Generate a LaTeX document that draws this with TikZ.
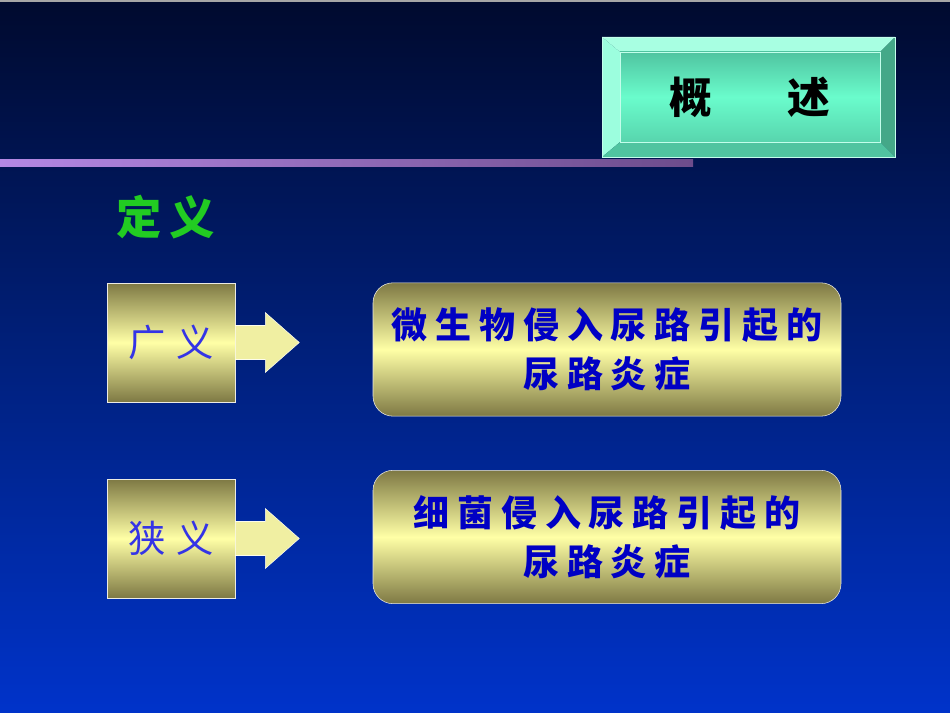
\documentclass[tikz,border=0pt]{standalone}
\usepackage{fontspec}
\usepackage{xcolor}
\usepackage{tikz}
\usetikzlibrary{calc,positioning}
\newfontfamily\cjk{Noto Sans CJK SC}
\newfontfamily\cjkwide[LetterSpace=22]{Noto Sans CJK SC}
\definecolor{skytop}{HTML}{000A2E}
\definecolor{skymid}{HTML}{00207C}
\definecolor{skybot}{HTML}{0033CA}
\definecolor{olivex}{HTML}{7E7944}
\definecolor{paley}{HTML}{FFFFA6}
\definecolor{arrowy}{HTML}{F0EFA2}
\definecolor{mintx}{HTML}{6AFCCC}
\definecolor{mintdk}{HTML}{50C4A0}
\definecolor{mintlt}{HTML}{A8FFE2}
\definecolor{mintsd}{HTML}{44A888}
\definecolor{lilac}{HTML}{B488E4}
\definecolor{plum}{HTML}{6C4C8C}
\definecolor{greenx}{HTML}{22CC22}
\definecolor{bluex}{HTML}{3434E6}
\definecolor{navyx}{HTML}{0000C4}
\tikzset{
  sidebox/.style={draw=white!85!olivex,thin,top color=olivex,bottom color=olivex,middle color=paley,
    minimum width=96pt,minimum height=89pt,inner sep=0pt,text=bluex,
    font=\cjk\fontsize{28}{30}\selectfont},
  defbox/.style={draw=white!85!olivex,thin,rounded corners=15pt,top color=olivex,bottom color=olivex,middle color=paley,
    minimum width=351pt,minimum height=100pt,inner sep=0pt,align=center,text=navyx,
    font=\cjkwide\bfseries\fontsize{27}{37}\selectfont},
  blockar/.style={draw=white!80!arrowy,thin,fill=arrowy}
}
\begin{document}
\begin{tikzpicture}[x=0.75pt,y=-0.75pt]
\shade[top color=skytop,bottom color=skybot,middle color=skymid] (0,0) rectangle (950,713);
\useasboundingbox (0,0) rectangle (950,713);
\fill[gray!70] (0,0) rectangle (950,2);
% title plate
\fill[mintlt] (602,37) -- (895,37) -- (880,52) -- (620,52) -- cycle;
\fill[mintlt!80!mintx] (602,37) -- (620,52) -- (620,142) -- (602,157) -- cycle;
\fill[mintsd] (895,37) -- (895,157) -- (880,142) -- (880,52) -- cycle;
\fill[mintdk] (602,157) -- (620,142) -- (880,142) -- (895,157) -- cycle;
\shade[top color=mintdk,bottom color=mintdk!70!mintx,middle color=mintx] (620,52) rectangle (880,142);
\draw[white!60!mintx,thin] (620,52) rectangle (880,142);
\draw[white!60!mintx,thin] (602,37) rectangle (895,157);
\node[font=\cjk\bfseries\fontsize{32}{34}\selectfont,text=black] (title) at (750,97) {概\hspace{57pt}述};
% rule under title
\shade[left color=lilac,right color=plum] (0,160) rectangle (693,167);
\node[font=\cjk\bfseries\fontsize{34}{36}\selectfont,text=greenx] (define) at (166,217) {定\hspace{6pt}义};
% broad and narrow
\node[sidebox] (wide) at (171,342.5) {广\hspace{8pt}义};
\node[sidebox] (narrow) at (171,538.5) {狭\hspace{8pt}义};
\foreach \src in {wide,narrow}{
  \draw[blockar] ($(\src.east)+(0,-17)$) -- ++(30,0) -- ++(0,-13) -- ++(34,30) -- ++(-34,30) -- ++(0,-13) -- ++(-30,0) -- cycle;
}
\node[defbox] (widedef) at (607,349.5) {微生物侵入尿路引起的\\尿路炎症};
\node[defbox] (narrowdef) at (607,537) {细菌侵入尿路引起的\\尿路炎症};
\end{tikzpicture}
\end{document}
